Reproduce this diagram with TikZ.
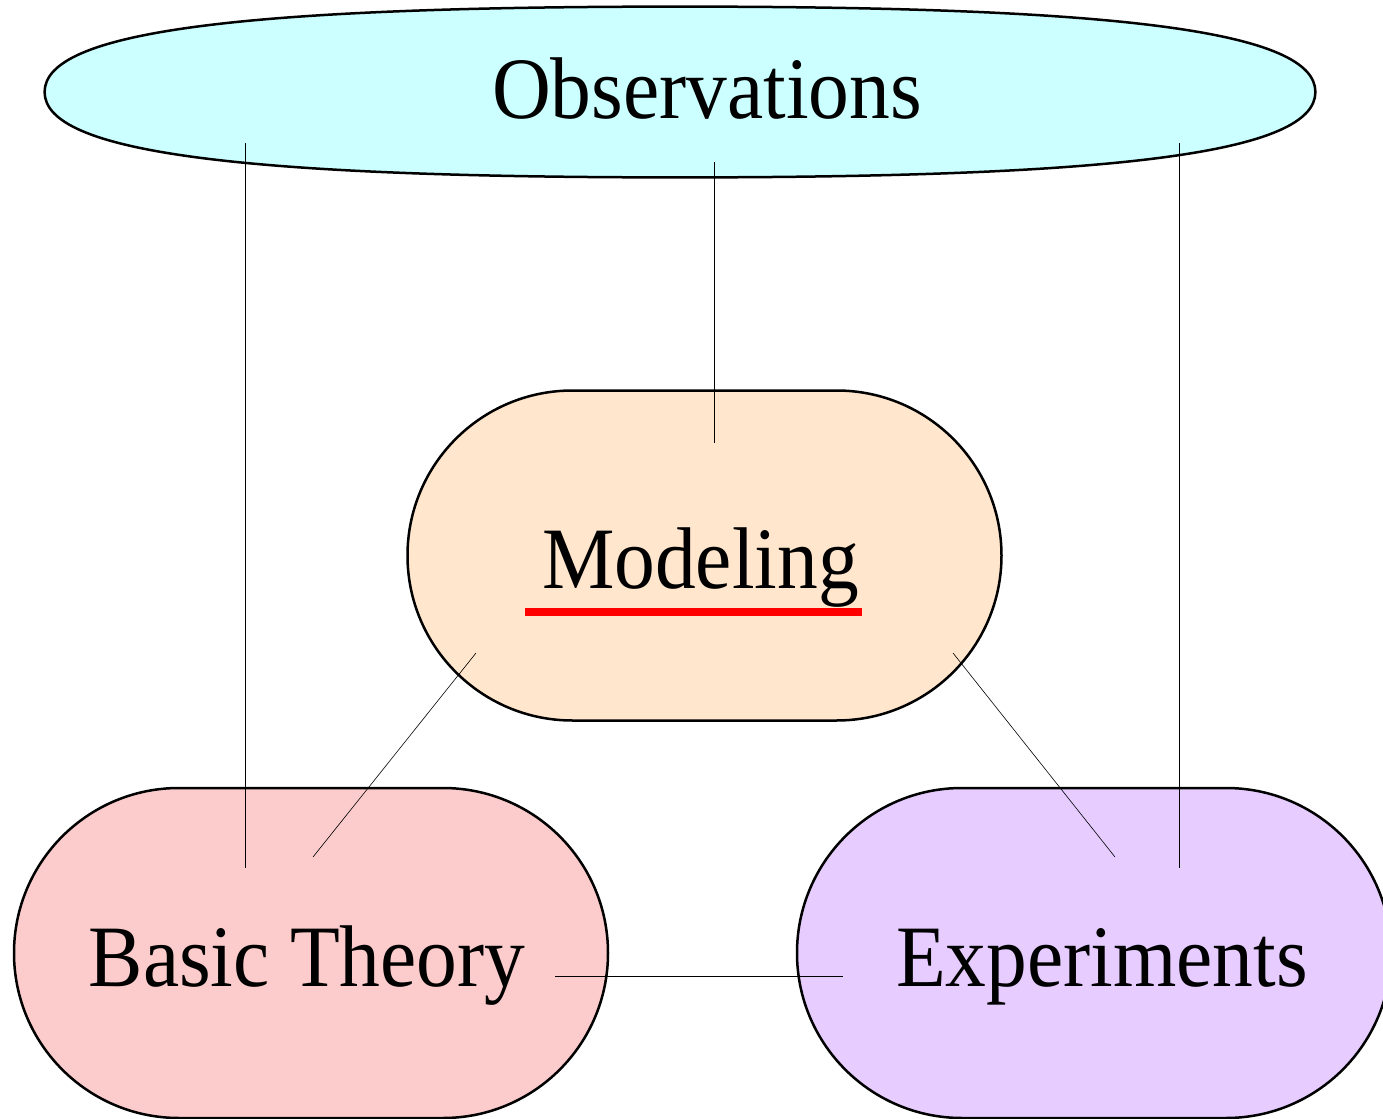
\documentclass[tikz,border=0pt]{standalone}
\usepackage{fontspec}
\setmainfont[FakeStretch=0.93]{Liberation Serif}
\usetikzlibrary{positioning,calc,backgrounds}
\definecolor{obsfill}{RGB}{204,255,255}
\definecolor{modfill}{RGB}{255,230,204}
\definecolor{thfill}{RGB}{252,204,204}
\definecolor{expfill}{RGB}{230,204,255}
\tikzset{
  every picture/.style={font=\fontsize{43.8}{52}\selectfont},
  blob/.style={draw,line width=1.25pt,rounded corners=82.5pt,
    minimum width=297pt,minimum height=165pt,inner sep=0pt,
    text height=40pt,text depth=7pt},
  oval/.style={minimum width=635pt,minimum height=85pt,inner sep=0pt,
    text height=33pt,text depth=7pt},
  rim/.style={draw,line width=1.25pt,fill=obsfill},
  link/.style={line width=0.3pt},
  uline/.style={red,line width=4pt},
}
\begin{document}
\begin{tikzpicture}[x=0.5pt,y=-0.5pt]
  \useasboundingbox (0,0) rectangle (1383,1119);
  \node[oval] (obs) at (680,92) {\hspace*{27pt}Observations};
  \begin{scope}[on background layer]
    % fat ellipse round the top label
    \path[rim] (obs.west) .. controls ($(obs.west)+(0,-60)$) and ($(obs.north)+(-445,0)$) .. (obs.north)
      .. controls ($(obs.north)+(445,0)$) and ($(obs.east)+(0,-60)$) .. (obs.east)
      .. controls ($(obs.east)+(0,60)$) and ($(obs.south)+(445,0)$) .. (obs.south)
      .. controls ($(obs.south)+(-445,0)$) and ($(obs.west)+(0,60)$) .. (obs.west) -- cycle;
  \end{scope}
  \node[blob,fill=modfill] (model) at (704.5,555.5) {Modeling\hspace*{4pt}};
  \node[blob,fill=thfill] (theory) at (311,953) {Basic Theory\hspace*{4pt}};
  \node[blob,fill=expfill] (expt) at (1094,953) {\hspace*{8pt}Experiments};
  % red mark under the middle box
  \draw[uline] ($(model.center)+(-179.5,56.5)$) -- ($(model.center)+(157.5,56.5)$);
  % links
  \draw[link] ($(obs.center)+(-435,51)$) -- ($(theory.center)+(-66,-85)$);
  \draw[link] ($(obs.center)+(34,70)$) -- ($(model.center)+(9.5,-112.5)$);
  \draw[link] ($(obs.center)+(499,51)$) -- ($(expt.center)+(85,-85)$);
  \draw[link] ($(model.center)+(-228.5,97.5)$) -- ($(theory.center)+(2,-96)$);
  \draw[link] ($(model.center)+(248.5,97.5)$) -- ($(expt.center)+(21,-96)$);
  \draw[link] ($(theory.center)+(244,23)$) -- ($(expt.center)+(-251,23)$);
\end{tikzpicture}
\end{document}
